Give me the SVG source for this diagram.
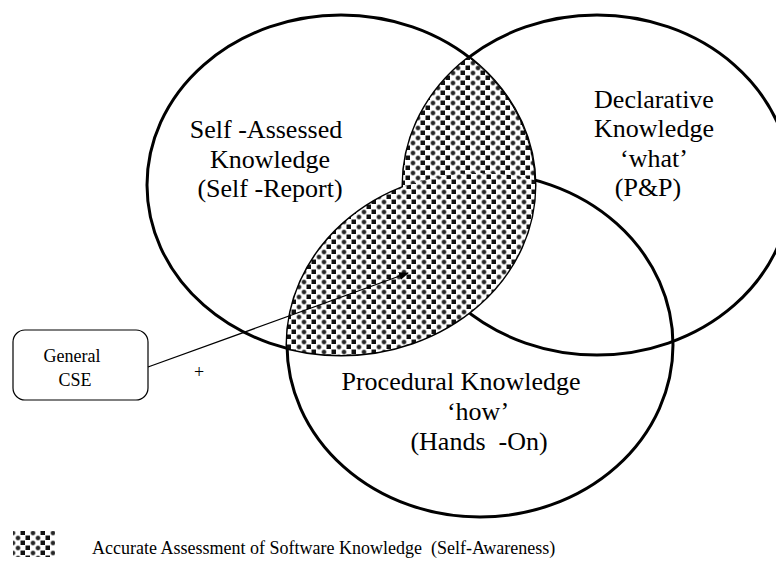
<svg xmlns="http://www.w3.org/2000/svg" width="776" height="562" viewBox="0 0 776 562">
<style>
.c{fill:none;stroke:#000;stroke-width:3}
.t{font-family:"Liberation Serif","Times New Roman",serif;font-size:26px;fill:#000;white-space:pre;text-anchor:middle}
.s{font-size:18px}
.l{font-size:18px;text-anchor:start}
.box{fill:#fff;stroke:#000;stroke-width:1.2}
.conn{stroke:#000;stroke-width:1.3;fill:none}
</style>
<defs>
<radialGradient id="dot"><stop offset="0" stop-color="#111"/><stop offset="0.5" stop-color="#444"/><stop offset="1" stop-color="#fff" stop-opacity="0"/></radialGradient>
<pattern id="pa" width="20" height="20" patternUnits="userSpaceOnUse">
<rect width="20" height="20" fill="#fff"/>
<rect x="0.5" y="0.5" width="4.5" height="4.5" fill="#111"/>
<rect x="5.5" y="5.5" width="4.5" height="4.5" fill="#111"/>
<rect x="0.5" y="10.5" width="4.5" height="4.5" fill="#111"/>
<rect x="5.5" y="15.5" width="4.5" height="4.5" fill="#111"/>
<circle cx="13" cy="3" r="3.6" fill="url(#dot)"/>
<circle cx="18" cy="8" r="3.6" fill="url(#dot)"/>
<circle cx="13" cy="13" r="3.6" fill="url(#dot)"/>
<circle cx="18" cy="18" r="3.6" fill="url(#dot)"/>
<circle cx="18" cy="-2" r="3.6" fill="url(#dot)"/>
<circle cx="-2" cy="8" r="3.6" fill="url(#dot)"/>
<circle cx="-2" cy="18" r="3.6" fill="url(#dot)"/>
</pattern>
<pattern id="pb" href="#pa" x="6" y="4"/>
<clipPath id="cr"><ellipse cx="597" cy="185" rx="194" ry="170"/></clipPath>
<clipPath id="cb"><ellipse cx="480" cy="345" rx="193" ry="172"/></clipPath>
<marker id="ah" markerWidth="10" markerHeight="8" refX="9" refY="4" orient="auto" markerUnits="userSpaceOnUse"><path d="M0,0 L10,4 L0,8 Z" fill="#000"/></marker>
</defs>
<g id="self-assessed">
<ellipse class="c" cx="341" cy="185" rx="194" ry="170"/>
<text class="t" x="266" y="138">Self -Assessed</text>
<text class="t" x="270" y="168">Knowledge</text>
<text class="t" x="270" y="197">(Self -Report)</text>
</g>
<g id="declarative">
<ellipse class="c" cx="597" cy="185" rx="194" ry="170"/>
<text class="t" x="654" y="108">Declarative</text>
<text class="t" x="654" y="137">Knowledge</text>
<text class="t" x="654" y="167">‘what’</text>
<text class="t" x="648" y="196">(P&amp;P)</text>
</g>
<g id="procedural">
<ellipse class="c" cx="480" cy="345" rx="193" ry="172"/>
<text class="t" x="461" y="390">Procedural Knowledge</text>
<text class="t" x="478" y="420">‘how’</text>
<text class="t" x="479" y="450">(Hands  -On)</text>
</g>
<g id="accurate-assessment">
<ellipse cx="341" cy="185" rx="194" ry="170" fill="url(#pa)" stroke="#000" stroke-width="1" clip-path="url(#cr)"/>
<ellipse cx="341" cy="185" rx="194" ry="170" fill="url(#pb)" clip-path="url(#cb)"/>
</g>
<g id="general-cse">
<rect class="box" x="13" y="330" width="135" height="70" rx="12"/>
<text class="t s" x="72" y="362">General</text>
<text class="t s" x="75" y="386">CSE</text>
</g>
<g id="connectors">
<line class="conn" x1="148" y1="367" x2="408" y2="273" marker-end="url(#ah)"/>
<text class="t s" x="199" y="378">+</text>
</g>
<g id="legend">
<rect x="13" y="531" width="42" height="26" fill="url(#pa)"/>
<text class="t l" x="92" y="554">Accurate Assessment of Software Knowledge  (Self-Awareness)</text>
</g>
</svg>
